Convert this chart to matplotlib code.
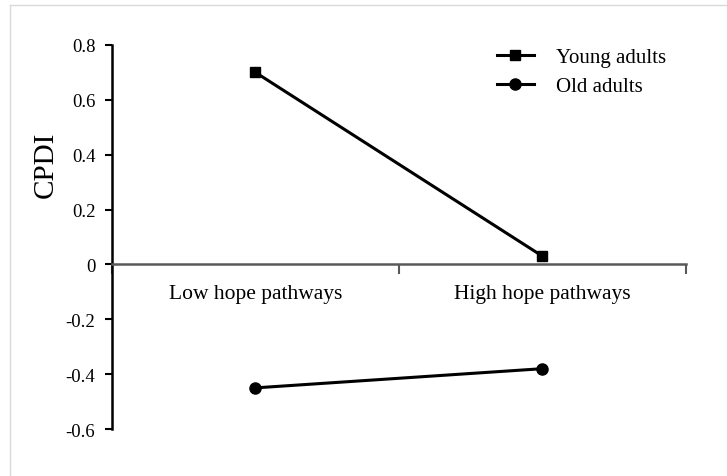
import matplotlib
matplotlib.use('Agg')
import matplotlib.pyplot as plt
from matplotlib.lines import Line2D
import numpy as np

categories = ['Low hope pathways', 'High hope pathways']
young = [0.70, 0.03]
old = [-0.45, -0.38]
yticks = [-0.6, -0.4, -0.2, 0, 0.2, 0.4, 0.6, 0.8]

plt.rcParams['font.family'] = ['Liberation Serif', 'DejaVu Serif']

fig = plt.figure(figsize=(7.27, 4.77), dpi=100)
ax = fig.add_axes([0.154, 0.0985, 0.7896, 0.8051])

xpos = np.arange(len(categories)) + 0.5
ax.plot(xpos, young, color='black', lw=2.2, marker='s', markersize=7,
        label='Young adults')
ax.plot(xpos, old, color='black', lw=2.2, marker='o', markersize=8,
        label='Old adults')

ax.set_xlim(0, 2)
ax.set_ylim(-0.6, 0.8)

# y axis
ax.set_yticks(yticks)
ax.set_yticklabels(['%g' % v for v in yticks])
ax.tick_params(axis='y', direction='out', length=5, width=1.5, pad=7,
               labelsize=13.5, color='black')
ax.spines['left'].set_linewidth(1.8)
ax.spines['left'].set_color('black')

# x axis through zero
ax.spines['bottom'].set_position(('data', 0))
ax.spines['bottom'].set_color('#595959')
ax.spines['bottom'].set_linewidth(1.8)
ax.set_xticks([0, 1, 2])
ax.set_xticklabels([])
ax.set_xticks(xpos, minor=True)
ax.set_xticklabels(categories, minor=True)
ax.tick_params(axis='x', which='major', direction='out', length=7, width=1.5,
               color='#595959')
ax.tick_params(axis='x', which='minor', length=0, pad=14, labelsize=15.5)

ax.spines['top'].set_visible(False)
ax.spines['right'].set_visible(False)

ax.set_ylabel('CPDI', fontsize=21, va='center')
ax.yaxis.set_label_coords(-0.115, 0.69)

fig.legend(loc='center left', bbox_to_anchor=(0.684, 0.847), frameon=False,
           fontsize=15, handlelength=1.75, handletextpad=1.05,
           labelspacing=0.44, borderpad=0, borderaxespad=0)

# light frame of the original figure box
fig.add_artist(Line2D([0.0138, 0.0138], [0, 0.987], color='#d9d9d9', lw=1,
                      transform=fig.transFigure))
fig.add_artist(Line2D([0.0138, 1.0], [0.987, 0.987], color='#d9d9d9', lw=1,
                      transform=fig.transFigure))

fig.savefig('out.png', dpi=100)
